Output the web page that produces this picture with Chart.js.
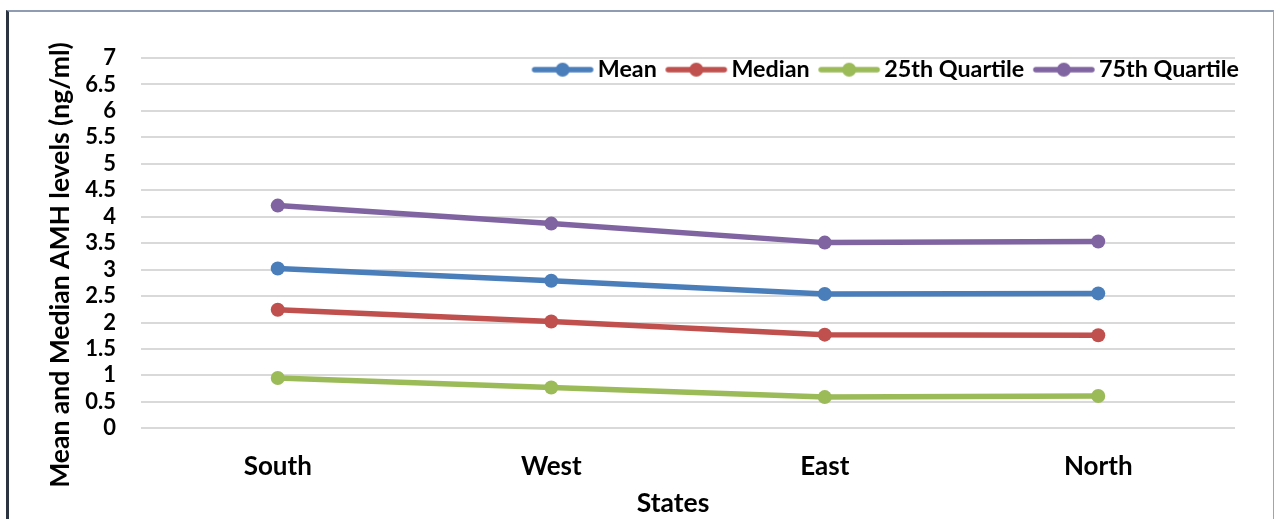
<!DOCTYPE html>
<html>
<head>
<meta charset="utf-8">
<script src="https://cdn.jsdelivr.net/npm/chart.js@4.4.1/dist/chart.umd.min.js"></script>
<style>
  html, body { margin: 0; padding: 0; background: #ffffff; }
  #wrap { position: relative; width: 1277px; height: 519px; overflow: hidden; background: #fff; }
  #frame {
    position: absolute; left: 6px; top: 10px; width: 1268px; height: 530px;
    border-top: 2px solid #8e9bb0; border-right: 1px solid #9aa6b8;
    border-left: 3px solid #2b3440; box-sizing: border-box;
  }
  #c { position: absolute; left: 0; top: 0; }
</style>
</head>
<body>
<div id="wrap">
  <div id="frame"></div>
  <canvas id="c" width="1277" height="519"></canvas>
</div>
<script>
// Regional AMH levels (ng/ml)
const states = ['South', 'West', 'East', 'North'];
const meanValues = [3.02, 2.79, 2.54, 2.55];
const medianValues = [2.24, 2.02, 1.77, 1.76];
const q25Values = [0.95, 0.77, 0.59, 0.61];
const q75Values = [4.21, 3.87, 3.51, 3.53];
const yTicks = [0, 0.5, 1, 1.5, 2, 2.5, 3, 3.5, 4, 4.5, 5, 5.5, 6, 6.5, 7];

const FONT = 'Lato, "Open Sans", sans-serif';
const colors = {
  mean: '#4a7ebb',
  median: '#c0504d',
  q25: '#9bbb59',
  q75: '#8064a2'
};

// Legend icon: short line with a dot in the middle, sitting close to its label
const ICON_BOX = 53;
function legendIcon(color) {
  const cv = document.createElement('canvas');
  cv.width = 70; cv.height = 16;
  const g = cv.getContext('2d');
  g.strokeStyle = color; g.lineWidth = 5.5; g.lineCap = 'round';
  g.beginPath(); g.moveTo(10, 8); g.lineTo(66, 8); g.stroke();
  g.fillStyle = color;
  g.beginPath(); g.arc(38, 8, 7, 0, Math.PI * 2); g.fill();
  return cv;
}

function series(label, data, color) {
  return {
    label, data,
    borderColor: color, backgroundColor: color,
    borderWidth: 5.5, pointRadius: 7, pointHoverRadius: 7,
    pointBorderWidth: 0, tension: 0,
    icon: legendIcon(color)
  };
}

// Legend row sits inside the top band of the plot area
const legendInside = {
  id: 'legendInside',
  afterLayout(chart) {
    const lg = chart.legend;
    if (!lg) return;
    const h = lg.bottom - lg.top;
    lg.top = 48;
    lg.bottom = 48 + h;
    lg.left += 14;
    lg.right += 14;
  }
};

// Axis titles placed relative to the plot area
const axisTitles = {
  id: 'axisTitles',
  afterDraw(chart) {
    const { ctx } = chart;
    ctx.save();
    ctx.fillStyle = '#000';
    ctx.font = 'bold 26.5px ' + FONT;
    ctx.textAlign = 'center';
    ctx.textBaseline = 'middle';
    ctx.fillText('States', 673, 503);
    ctx.translate(60, 265);
    ctx.rotate(-Math.PI / 2);
    ctx.fillText('Mean and Median AMH levels (ng/ml)', 0, 0);
    ctx.restore();
  }
};

new Chart(document.getElementById('c'), {
  type: 'line',
  data: {
    labels: states,
    datasets: [
      series('Mean', meanValues, colors.mean),
      series('Median', medianValues, colors.median),
      series('25th Quartile', q25Values, colors.q25),
      series('75th Quartile', q75Values, colors.q75)
    ]
  },
  options: {
    responsive: false,
    animation: false,
    layout: { padding: { left: 0, right: 42, top: 14.7, bottom: 0 } },
    plugins: {
      tooltip: { enabled: false },
      legend: {
        position: 'top',
        align: 'end',
        labels: {
          usePointStyle: true,
          pointStyleWidth: ICON_BOX,
          padding: 10,
          color: '#000',
          font: { family: FONT, size: 23.3, weight: 'bold' },
          generateLabels(chart) {
            const items = Chart.defaults.plugins.legend.labels.generateLabels(chart);
            items.forEach(it => { it.pointStyle = chart.data.datasets[it.datasetIndex].icon; });
            return items;
          }
        }
      }
    },
    scales: {
      x: {
        offset: true,
        grid: { display: false, drawTicks: false },
        border: { display: false },
        ticks: { color: '#000', padding: 23, font: { family: FONT, size: 26, weight: 'bold' } },
        afterFit(scale) { scale.height = 90.7; }
      },
      y: {
        min: 0, max: 7,
        afterBuildTicks(scale) { scale.ticks = yTicks.map(v => ({ value: v })); },
        grid: { color: '#d9d9d9', lineWidth: 2, drawTicks: false },
        border: { display: false },
        ticks: {
          autoSkip: false,
          color: '#000', padding: 25,
          font: { family: FONT, size: 22, weight: 'bold' },
          callback: v => String(v)
        },
        afterFit(scale) { scale.width = 141; }
      }
    }
  },
  plugins: [legendInside, axisTitles]
});
</script>
</body>
</html>
